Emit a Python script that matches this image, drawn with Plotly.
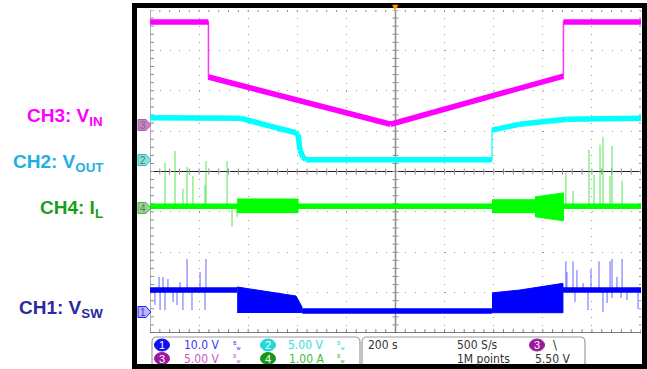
import numpy as np
import plotly.graph_objects as go

# ---------------- data ----------------
# time axis: seconds, 200 s/div, trigger at t = 0
# CH3  V_IN  (V)
vin_t = [-1000, -762, -762, -20, 684, 684, 1000]
vin_v = [12.75, 12.75, 5.95, 0.10, 6.07, 12.75, 12.75]

# CH2  V_OUT (V)
vout_t = [-1000, -633, -511, -405, -397, -389, -377, -365, 393, 393, 507, 617, 700, 1000]
vout_v = [5.26, 5.20, 4.21, 3.40, 3.20, 1.24, 0.37, 0.06, 0.06, 3.72, 4.46, 4.83, 5.08, 5.20]

# CH4  I_L (A)
il_t = [-1000, 1000]
il_v = [0.04, 0.04]
il_burst_t = [[-645, -397], [393, 568], [568, 684]]
il_burst_hi = [[0.22, 0.22], [0.20, 0.20], [0.27, 0.37]]
il_burst_lo = [[-0.12, -0.12], [-0.12, -0.12], [-0.22, -0.32]]
il_spike_t = [-939, -898, -866, -849, -825, -776, -772, -686, -666, -646,
              694, 723, 788, 809, 833, 845, 874, 882, 923]
il_spike_v = [1.11, 1.41, 0.47, 1.01, 0.79, 0.57, 1.16, 1.16, -0.47, -0.22,
              0.87, 0.42, 1.44, 0.82, 1.56, 1.76, 0.79, 1.53, 0.67]

# CH1  V_SW (V)
vsw_t = [-1000, -645, None, -380, 393, None, 682, 1000]
vsw_v = [5.45, 5.45, None, 0.25, 0.25, None, 5.45, 5.45]
vsw_burst_t = [[-645, -552, -470, -405, -381], [393, 400, 507, 617, 682]]
vsw_burst_hi = [[6.19, 5.32, 4.70, 3.96, 1.24], [4.70, 4.78, 5.45, 6.44, 7.10]]
vsw_burst_lo = [[-0.12, -0.12, -0.12, -0.12, -0.12], [-0.17, -0.17, -0.17, -0.17, -0.17]]
vsw_spike_t = [-963, -947, -927, -878, -849, -796, -772,
               -980, -959, -939, -906, -890, -866, -829, -776,
               694, 698, 723, 739, 764, 796, 829, 874, 882, 902, 923,
               731, 784, 845, 862, 882, 919, 943, 988]
vsw_spike_v = [8.66, 8.66, 8.17, 7.43, 13.1, 9.90, 13.1,
               1.73, 0.50, 0.50, 2.48, 1.73, 0.50, 0.50, 0.50,
               12.6, 9.90, 12.6, 10.4, 7.18, 10.6, 12.6, 12.6, 13.1, 8.66, 13.1,
               2.48, 0.50, 0.00, 2.23, 3.47, 3.47, 2.97, 0.74]

# scope settings
ch_scale = {1: 10.0, 2: 5.0, 3: 5.0, 4: 1.0}          # units / div
ch_ground = {1: 0.52, 2: 4.28, 3: 5.15, 4: 3.10}       # ground marker, div from bottom
ch_color = {1: "#0000FF", 2: "#00FFFF", 3: "#FF00FF", 4: "#00FF00"}
ch_axis = {1: "y2", 2: "y3", 3: "y4", 4: "y5"}

status_row1 = ["10.0 V", "5.00 V"]
status_row2 = ["5.00 V", "1.00 A"]
horiz_info = ["200 s", "500 S/s", "1M points", "5.50 V"]

labels = [("CH3: V<sub>IN</sub>", "#FF00FF", 117),
          ("CH2: V<sub>OUT</sub>", "#1EAFE6", 163),
          ("CH4: I<sub>L</sub>", "#17A017", 209),
          ("CH1: V<sub>SW</sub>", "#2A2A9C", 309)]

# ---------------- geometry ----------------
W, H = 647, 369
L, R, T, B = 150, 641, 10, 333
NX, NY = 10, 8
TMIN, TMAX = -1000, 1000
SPX = (TMAX - TMIN) / (R - L)      # seconds per pixel
DPX = NY / (B - T)                 # divisions per pixel


def px(x):
    return (x - L) / (R - L)


def py(y):
    return (B - y) / (B - T)


fig = go.Figure()
fig.add_trace(go.Scatter(x=[], y=[], xaxis="x", yaxis="y", showlegend=False, hoverinfo="skip"))


def add_path(ch, t, v):
    ax = ch_axis[ch]
    fig.add_trace(go.Scatter(x=t, y=v, mode="lines", yaxis=ax, showlegend=False,
                             line=dict(color=ch_color[ch], width=1.5), hoverinfo="skip",
                             opacity=0.8))
    tx, vy = [], []
    for i in range(len(t) - 1):
        if t[i] is None or t[i + 1] is None:
            continue
        if t[i] == t[i + 1]:
            continue
        tx += [t[i], t[i + 1], None]
        vy += [v[i], v[i + 1], None]
    fig.add_trace(go.Scatter(x=tx, y=vy, mode="lines", yaxis=ax, showlegend=False,
                             line=dict(color=ch_color[ch], width=5.5), hoverinfo="skip"))


def add_bursts(ch, bt, bhi, blo):
    ax = ch_axis[ch]
    for t, hi, lo in zip(bt, bhi, blo):
        fig.add_trace(go.Scatter(x=list(t) + list(t)[::-1], y=list(hi) + list(lo)[::-1],
                                 mode="lines", fill="toself", fillcolor=ch_color[ch],
                                 line=dict(color=ch_color[ch], width=1), yaxis=ax,
                                 showlegend=False, hoverinfo="skip"))


def add_spikes(ch, st, sv, base, color):
    ax = ch_axis[ch]
    xs, ys = [], []
    for t, v in zip(st, sv):
        xs += [t, t, None]
        ys += [base, v, None]
    fig.add_trace(go.Scatter(x=xs, y=ys, mode="lines", yaxis=ax, showlegend=False,
                             line=dict(color=color, width=1.3), hoverinfo="skip"))


# CH1
add_spikes(1, vsw_spike_t, vsw_spike_v, 5.45, "rgba(60,60,255,0.6)")
add_path(1, vsw_t, vsw_v)
add_bursts(1, vsw_burst_t, vsw_burst_hi, vsw_burst_lo)
# CH2
add_path(2, vout_t, vout_v)
# CH3
add_path(3, vin_t, vin_v)
# CH4
add_spikes(4, il_spike_t, il_spike_v, il_v[0], "rgba(40,220,40,0.6)")
add_path(4, il_t, il_v)
add_bursts(4, il_burst_t, il_burst_hi, il_burst_lo)

# ---------------- axes ----------------
layout_axes = dict(
    xaxis=dict(range=[TMIN, TMAX], dtick=200, tick0=TMIN, showgrid=True,
               gridcolor="#9A9A9A", gridwidth=1, griddash="1px,7.07px",
               showticklabels=False, ticks="", zeroline=False, showline=False,
               fixedrange=True),
    yaxis=dict(range=[0, NY], dtick=1, tick0=0, showgrid=True,
               gridcolor="#9A9A9A", gridwidth=1, griddash="1px,8.82px",
               showticklabels=False, ticks="", zeroline=False, showline=False,
               fixedrange=True),
)
for ch, ax in ch_axis.items():
    s, g = ch_scale[ch], ch_ground[ch]
    layout_axes["yaxis" + ax[1:]] = dict(range=[-g * s, (NY - g) * s], overlaying="y",
                                         visible=False, showgrid=False, zeroline=False,
                                         fixedrange=True)

shapes = []
shapes.append(dict(type="line", xref="x", yref="y", x0=0, x1=0, y0=0, y1=NY,
                   line=dict(color="#8A8A8A", width=1.5), layer="below"))
shapes.append(dict(type="line", xref="x", yref="y", x0=TMIN, x1=TMAX, y0=NY / 2, y1=NY / 2,
                   line=dict(color="#222222", width=1), layer="below"))
tick_t = np.arange(TMIN, TMAX + 1, 40)
tick_d = np.arange(0, NY + 0.001, 0.2)
p = ""
for t in tick_t:
    p += f"M{t},{NY/2 - 3*DPX} L{t},{NY/2 + 3*DPX} "
    p += f"M{t},0 L{t},{4*DPX} "
    p += f"M{t},{NY} L{t},{NY - 2*DPX} "
for d in tick_d:
    p += f"M{-3*SPX},{d} L{3*SPX},{d} "
    p += f"M{TMIN},{d} L{TMIN + 4*SPX},{d} "
    p += f"M{TMAX},{d} L{TMAX - 2*SPX},{d} "
shapes.append(dict(type="path", xref="x", yref="y", path=p,
                   line=dict(color="#8A8A8A", width=1), layer="below"))
shapes.append(dict(type="line", xref="x", yref="y", x0=TMIN, x1=TMIN, y0=0, y1=NY,
                   line=dict(color="#9A9A9A", width=1.5), layer="below"))
shapes.append(dict(type="line", xref="x", yref="y", x0=TMIN, x1=TMAX, y0=0, y1=0,
                   line=dict(color="#555555", width=1.5), layer="below"))


def rrect(x0, y0, x1, y1, r):
    X0, X1, Y0, Y1 = px(x0), px(x1), py(y0), py(y1)
    rx, ry = r / (R - L), r / (B - T)
    return (f"M{X0 + rx},{Y0} L{X1 - rx},{Y0} Q{X1},{Y0} {X1},{Y0 - ry} "
            f"L{X1},{Y1 + ry} Q{X1},{Y1} {X1 - rx},{Y1} L{X0 + rx},{Y1} "
            f"Q{X0},{Y1} {X0},{Y1 + ry} L{X0},{Y0 - ry} Q{X0},{Y0} {X0 + rx},{Y0} Z")


shapes.append(dict(type="path", xref="paper", yref="paper", path=rrect(152, 337, 360, 372, 5),
                   line=dict(color="#9C9C9C", width=1.2), fillcolor="white", layer="above"))
shapes.append(dict(type="path", xref="paper", yref="paper", path=rrect(362, 337, 585, 372, 5),
                   line=dict(color="#9C9C9C", width=1.2), fillcolor="white", layer="above"))

annotations = []
badges = [(162, 345, "1", "#1010F0"), (268, 345, "2", "#22D8D8"),
          (162, 358.5, "3", "#9A1A9A"), (268, 358.5, "4", "#189818"),
          (537, 345, "3", "#9A1A9A")]
for bx, by, txt, col in badges:
    shapes.append(dict(type="circle", xref="paper", yref="paper",
                       x0=px(bx - 7.5), x1=px(bx + 7.5), y0=py(by - 6), y1=py(by + 6),
                       fillcolor=col, line=dict(color=col, width=1), layer="above"))
    annotations.append(dict(x=px(bx), y=py(by), xref="paper", yref="paper", text=txt,
                            showarrow=False, font=dict(family="Liberation Sans, Arial", size=11,
                                                       color="white"),
                            xanchor="center", yanchor="middle"))

NARROW = "Liberation Sans Narrow, Arial Narrow, DejaVu Sans Condensed, sans-serif"
stat = [(182, 345, status_row1[0], "#3A3AF0"), (286, 345, status_row1[1], "#30E0E0"),
        (182, 358.5, status_row2[0], "#CC5ACC"), (287, 358.5, status_row2[1], "#3CBC3C"),
        (366, 345, horiz_info[0], "#333333"), (455, 345, horiz_info[1], "#333333"),
        (455, 358.5, horiz_info[2], "#333333"), (533, 358.5, horiz_info[3], "#333333")]
for sx, sy, txt, col in stat:
    annotations.append(dict(x=px(sx), y=py(sy), xref="paper", yref="paper", text=txt,
                            showarrow=False, font=dict(family=NARROW, size=12, color=col),
                            xanchor="left", yanchor="middle"))
for bx, by, col in [(231, 345, "#3A3AF0"), (335, 345, "#30E0E0"),
                    (231, 358.5, "#CC5ACC"), (335, 358.5, "#3CBC3C")]:
    annotations.append(dict(x=px(bx), y=py(by), xref="paper", yref="paper",
                            text="<sup>B</sup><sub>w</sub>", showarrow=False,
                            font=dict(family=NARROW, size=8, color=col),
                            xanchor="left", yanchor="middle"))
annotations.append(dict(x=px(551), y=py(344), xref="paper", yref="paper", text="\\",
                        showarrow=False, font=dict(family=NARROW, size=13, color="#333333"),
                        xanchor="left", yanchor="middle"))

tags = [(3, 125, "#CC80CC", "#B060B0", "#707070"),
        (2, 160, "#80E4E4", "#30BFBF", "#707070"),
        (4, 208, "#90D890", "#50A850", "#707070"),
        (1, 312, "#B4B4FF", "#2020FF", "#4040B0")]
for ch, ty, fc, lc, tc in tags:
    path = (f"M{px(138)},{py(ty - 5.5)} L{px(146)},{py(ty - 5.5)} L{px(151)},{py(ty)} "
            f"L{px(146)},{py(ty + 5.5)} L{px(138)},{py(ty + 5.5)} Z")
    shapes.append(dict(type="path", xref="paper", yref="paper", path=path,
                       fillcolor=fc, line=dict(color=lc, width=1), layer="above"))
    annotations.append(dict(x=px(142.5), y=py(ty), xref="paper", yref="paper", text=str(ch),
                            showarrow=False, font=dict(family="Liberation Sans, Arial", size=10,
                                                       color=tc),
                            xanchor="center", yanchor="middle"))

for x0, y0, x1, y1 in [(132, 3, 647, 8), (132, 3, 137, 369), (642, 3, 647, 369), (132, 364, 647, 369)]:
    shapes.append(dict(type="rect", xref="paper", yref="paper", x0=px(x0), x1=px(x1),
                       y0=py(y1), y1=py(y0), fillcolor="black", line=dict(width=0),
                       layer="above"))

annotations.append(dict(x=0, y=py(8), xref="x", yref="paper", text="▼", showarrow=False,
                        font=dict(family="DejaVu Sans", size=8, color="#FF9900"),
                        xanchor="center", yanchor="middle"))

for txt, col, ly in labels:
    annotations.append(dict(x=px(105), y=py(ly), xref="paper", yref="paper",
                            text=f"<b>{txt}</b>", showarrow=False,
                            font=dict(family="Liberation Sans, Arial", size=19, color=col),
                            xanchor="right", yanchor="middle"))

fig.update_layout(
    width=W, height=H,
    margin=dict(l=L, r=W - R, t=T, b=H - B, pad=0),
    paper_bgcolor="white", plot_bgcolor="white",
    showlegend=False,
    shapes=shapes, annotations=annotations,
    **layout_axes,
)

fig.write_html("out.html", config={"displayModeBar": False},
               post_script="document.body.style.margin='0';document.body.style.padding='0';"
                           "document.body.style.overflow='hidden';")
